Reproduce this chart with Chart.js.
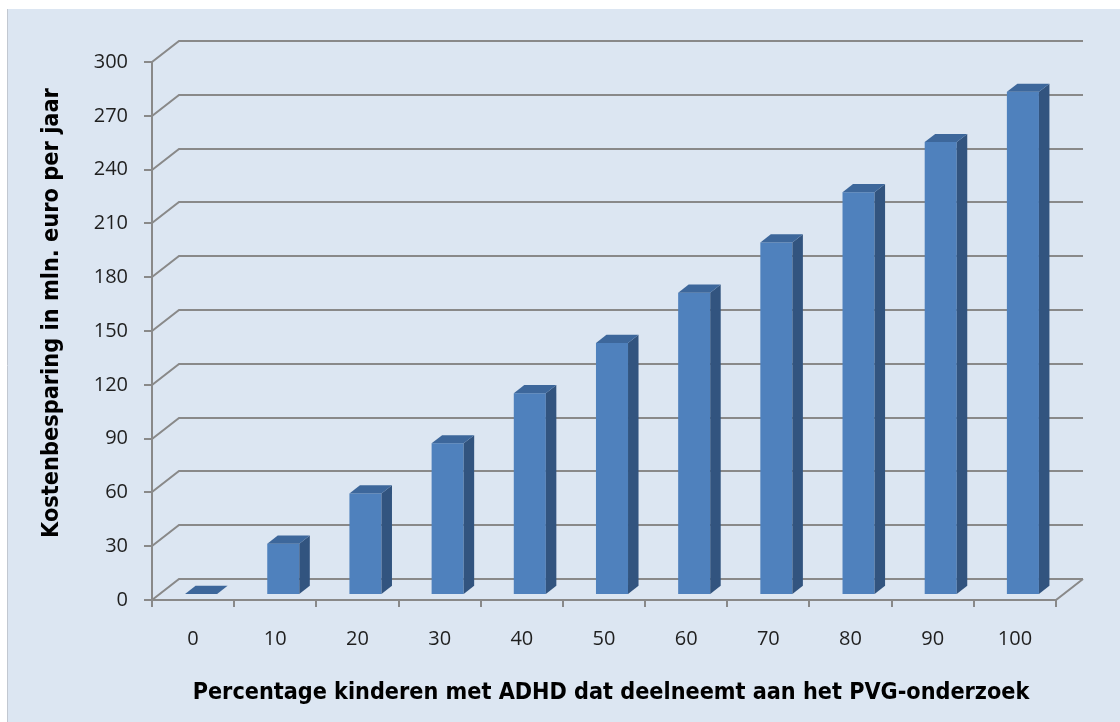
<!DOCTYPE html>
<html>
<head>
<meta charset="utf-8">
<script src="https://cdn.jsdelivr.net/npm/chart.js@4.4.1/dist/chart.umd.min.js"></script>
<style>
  html, body { margin: 0; padding: 0; background: #ffffff; }
  #wrap { position: relative; width: 1120px; height: 722px; }
  canvas { display: block; }
</style>
</head>
<body>
<div id="wrap"><canvas id="chart" width="1120" height="722"></canvas></div>
<script>
// Savings per participation percentage
const categories = ['0', '10', '20', '30', '40', '50', '60', '70', '80', '90', '100'];
const savings = [0, 28, 56, 84, 112, 140, 168, 196, 224, 252, 280];
const yTickValues = [0, 30, 60, 90, 120, 150, 180, 210, 240, 270, 300];
const xTitle = 'Percentage kinderen met ADHD dat deelneemt aan het PVG-onderzoek';
const yTitle = 'Kostenbesparing in mln. euro per jaar';

// 3D look: depth of the back wall and of each bar
const WALL_DX = 27, WALL_DY = -21;
const BAR_SHIFT_X = 8, BAR_SHIFT_Y = -6;
const BAR_DX = 10.5, BAR_DY = -8.2;

const BG = '#dce6f2';
const GRID = '#898989';
const FRONT = '#4f81bd';
const TOP = '#3d679b';
const SIDE = '#32547f';
const TITLE_FONT = '"DejaVu Sans Condensed", "DejaVu Sans", sans-serif';

function fitFont(ctx, text, width) {
  ctx.font = 'bold 100px ' + TITLE_FONT;
  const w = ctx.measureText(text).width;
  return Math.min(24, 100 * width / w);
}

const scene3d = {
  id: 'scene3d',
  beforeDraw(chart) {
    const ctx = chart.ctx;
    ctx.save();
    ctx.fillStyle = '#ffffff';
    ctx.fillRect(0, 0, chart.width, chart.height);
    ctx.fillStyle = BG;
    ctx.fillRect(8, 9, chart.width - 8, chart.height - 9);
    ctx.strokeStyle = '#c2c8d1';
    ctx.lineWidth = 1;
    ctx.beginPath();
    ctx.moveTo(7.5, 9);
    ctx.lineTo(7.5, chart.height);
    ctx.stroke();
    ctx.restore();
  },
  beforeDatasetsDraw(chart) {
    const ctx = chart.ctx;
    const ys = chart.scales.y;
    const a = chart.chartArea;
    ctx.save();
    ctx.strokeStyle = GRID;
    ctx.lineWidth = 2;
    ctx.lineJoin = 'miter';
    // back wall gridlines with the slanted left wall edges
    yTickValues.forEach(v => {
      const y = Math.round(ys.getPixelForValue(v));
      ctx.beginPath();
      ctx.moveTo(a.left, y);
      ctx.lineTo(a.left + WALL_DX, y + WALL_DY);
      ctx.lineTo(a.right + WALL_DX, y + WALL_DY);
      ctx.stroke();
      // tick mark on the front axis
      ctx.beginPath();
      ctx.moveTo(a.left - 8, y);
      ctx.lineTo(a.left, y);
      ctx.stroke();
    });
    // floor front edge and right edge
    const y0 = Math.round(ys.getPixelForValue(0));
    ctx.beginPath();
    ctx.moveTo(a.left, y0);
    ctx.lineTo(a.right, y0);
    ctx.lineTo(a.right + WALL_DX, y0 + WALL_DY);
    ctx.stroke();
    // vertical axis
    ctx.beginPath();
    ctx.moveTo(a.left, Math.round(ys.getPixelForValue(300)));
    ctx.lineTo(a.left, y0 + 7);
    ctx.stroke();
    // category ticks
    const n = categories.length;
    for (let i = 0; i <= n; i++) {
      const x = Math.round(a.left + (a.right - a.left) * i / n);
      ctx.beginPath();
      ctx.moveTo(x, y0);
      ctx.lineTo(x, y0 + 7);
      ctx.stroke();
    }
    ctx.restore();
    // bars sit in the middle of the floor depth
    ctx.save();
    ctx.translate(BAR_SHIFT_X, BAR_SHIFT_Y);
  },
  afterDatasetsDraw(chart) {
    const ctx = chart.ctx;
    const meta = chart.getDatasetMeta(0);
    meta.data.forEach(bar => {
      const p = bar.getProps(['x', 'y', 'base', 'width'], true);
      const xl = p.x - p.width / 2, xr = p.x + p.width / 2;
      const top = p.y, base = p.base;
      // side face
      ctx.fillStyle = SIDE;
      ctx.beginPath();
      ctx.moveTo(xr, top);
      ctx.lineTo(xr + BAR_DX, top + BAR_DY);
      ctx.lineTo(xr + BAR_DX, base + BAR_DY);
      ctx.lineTo(xr, base);
      ctx.closePath();
      ctx.fill();
      // top face
      ctx.fillStyle = TOP;
      ctx.beginPath();
      ctx.moveTo(xl, top);
      ctx.lineTo(xr, top);
      ctx.lineTo(xr + BAR_DX, top + BAR_DY);
      ctx.lineTo(xl + BAR_DX, top + BAR_DY);
      ctx.closePath();
      ctx.fill();
    });
    ctx.restore();
  },
  afterDraw(chart) {
    const ctx = chart.ctx;
    ctx.save();
    ctx.fillStyle = '#000000';
    ctx.textAlign = 'center';
    ctx.textBaseline = 'alphabetic';
    const xs = fitFont(ctx, xTitle, 837);
    ctx.font = 'bold ' + xs + 'px ' + TITLE_FONT;
    ctx.fillText(xTitle, 611, 699);
    const ysz = fitFont(ctx, yTitle, 450);
    ctx.font = 'bold ' + ysz + 'px ' + TITLE_FONT;
    ctx.translate(58, 313);
    ctx.rotate(-Math.PI / 2);
    ctx.fillText(yTitle, 0, 0);
    ctx.restore();
  }
};

const tickFont = { family: '"Open Sans", "Liberation Sans", sans-serif', size: 20 };

new Chart(document.getElementById('chart'), {
  type: 'bar',
  data: {
    labels: categories,
    datasets: [{
      data: savings,
      backgroundColor: FRONT,
      borderWidth: 0,
      categoryPercentage: 1,
      barPercentage: 0.39
    }]
  },
  options: {
    responsive: false,
    animation: false,
    devicePixelRatio: 1,
    layout: { padding: { left: 0, top: 62, right: 64, bottom: 0 } },
    plugins: { legend: { display: false }, tooltip: { enabled: false } },
    scales: {
      x: {
        grid: { display: false, drawTicks: false },
        border: { display: false },
        ticks: { color: '#1f1f1f', font: tickFont, padding: 27, maxRotation: 0 },
        afterFit(s) { s.height = 122; }
      },
      y: {
        min: 0,
        max: 300,
        grid: { display: false, drawTicks: false },
        border: { display: false },
        ticks: { color: '#1f1f1f', font: tickFont, padding: 24 },
        afterBuildTicks(s) { s.ticks = yTickValues.map(v => ({ value: v })); },
        afterFit(s) { s.width = 152; }
      }
    }
  },
  plugins: [scene3d]
});
</script>
</body>
</html>
